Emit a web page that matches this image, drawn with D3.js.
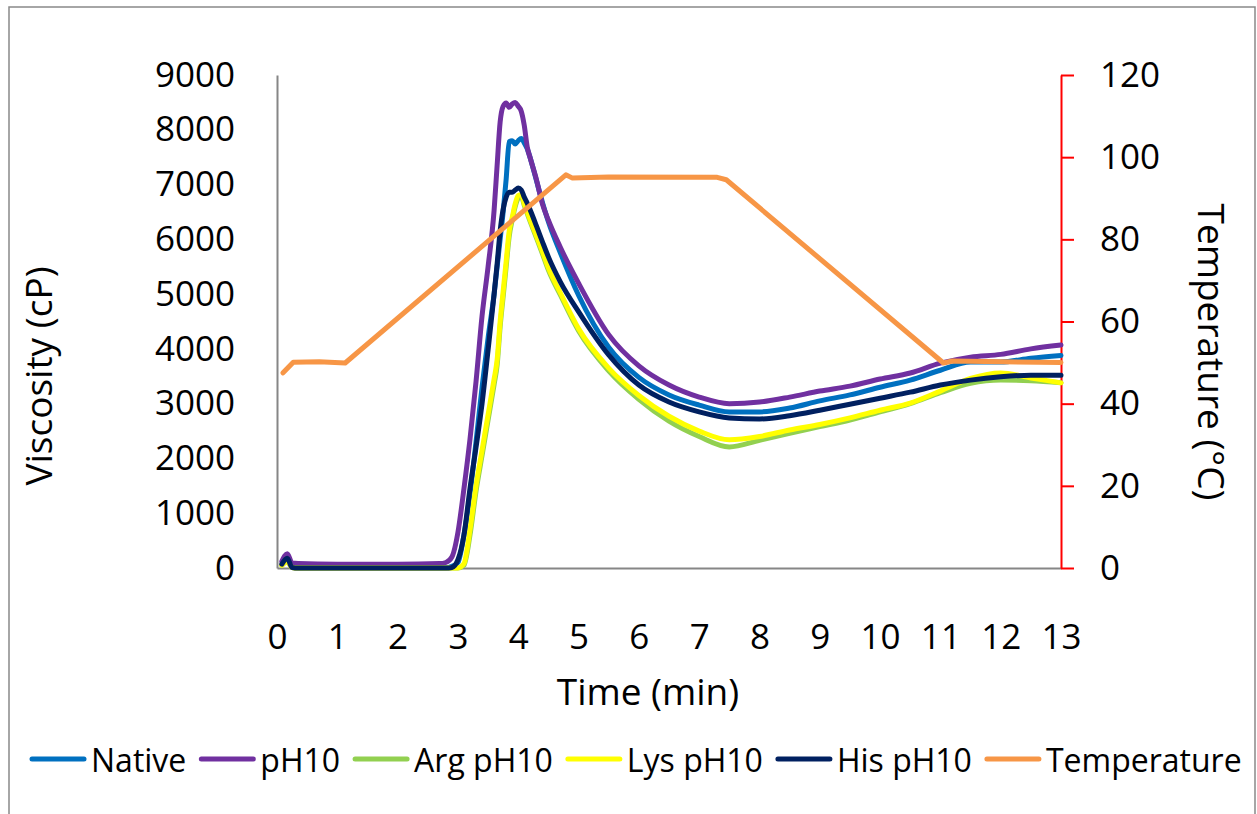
<!DOCTYPE html>
<html>
<head>
<meta charset="utf-8">
<script src="https://cdn.jsdelivr.net/npm/d3@7"></script>
<style>
  body { margin: 0; background: #fff; }
  text { font-family: "Open Sans", "Noto Sans", sans-serif; fill: #000; }
</style>
</head>
<body>
<svg width="1257" height="814"></svg>
<script>
// time grid (min) shared by the viscosity curves
const time = [0.08, 0.17, 0.25, 0.35, 1, 2, 2.7,
  2.8, 2.9, 3.0, 3.1, 3.2, 3.3, 3.4, 3.5,
  3.6, 3.65, 3.7, 3.75, 3.8, 3.85, 3.9, 3.95, 4.0, 4.05, 4.1, 4.15, 4.2,
  4.3, 4.4, 4.5, 4.7, 5.0,
  5.5, 6.0, 6.5, 7.0, 7.5, 8.0, 8.5, 9.0, 9.5, 10.0, 10.5, 11.0, 11.5, 12.0, 12.5, 13.0];

// viscosity (cP)
const native = [60, 150, 20, 0, 0, 0, 0,
  0, 30, 100, 600, 1350, 2300, 3300, 4200,
  5000, 5500, 6000, 6500, 7100, 7780, 7800, 7740, 7800, 7840, 7760, 7650, 7480,
  7080, 6680, 6320, 5750, 4980,
  4030, 3480, 3160, 2975, 2850, 2850, 2920, 3050, 3160, 3300, 3430, 3610, 3760, 3760, 3830, 3880];
const ph10 = [120, 260, 90, 80, 70, 70, 80,
  100, 200, 650, 1450, 2350, 3400, 4600, 5500,
  6530, 7350, 8140, 8430, 8490, 8410, 8470, 8500, 8430, 8340, 8080, 7680, 7480,
  7100, 6650, 6350, 5850, 5200,
  4260, 3690, 3340, 3120, 3000, 3030, 3120, 3230, 3320, 3450, 3560, 3740, 3850, 3900, 4000, 4070];
const argPh10 = [50, 120, 10, 0, 0, 0, 0,
  0, 0, 0, 50, 600, 1400, 2050, 2700,
  3350, 3700, 4400, 4950, 5500, 6050, 6350, 6600, 6750, 6780, 6620, 6470, 6320,
  6030, 5740, 5440, 4980, 4330,
  3600, 3080, 2680, 2400, 2210, 2330, 2460, 2580, 2700, 2850, 3000, 3200, 3370, 3430, 3420, 3380];
const lysPh10 = [50, 120, 10, 0, 0, 0, 0,
  0, 0, 0, 80, 700, 1500, 2150, 2800,
  3450, 3800, 4500, 5050, 5600, 6150, 6400, 6650, 6800, 6820, 6650, 6500, 6350,
  6070, 5780, 5480, 5020, 4370,
  3650, 3150, 2770, 2500, 2340, 2400, 2520, 2620, 2740, 2880, 3010, 3230, 3460, 3560, 3470, 3380];
const hisPh10 = [70, 180, 10, 0, 0, 0, 0,
  0, 10, 150, 600, 1450, 2200, 3000, 3980,
  5000, 5550, 6150, 6550, 6770, 6860, 6860, 6900, 6935, 6900, 6770, 6660, 6530,
  6250, 5960, 5680, 5220, 4680,
  3890, 3340, 3030, 2850, 2740, 2720, 2780, 2880, 2990, 3100, 3210, 3340, 3430, 3490, 3520, 3520];

// temperature profile (°C)
const tempTime = [0.1, 0.27, 0.7, 1.13, 4.79, 4.9, 5.5, 7.3, 7.45, 11.05, 11.2, 13.0];
const tempC = [47.5, 50.1, 50.2, 49.9, 95.7, 94.9, 95.2, 95.1, 94.5, 49.9, 50.4, 50.0];

const xTicks = d3.range(0, 14);
const yTicks = d3.range(0, 9001, 1000);
const tTicks = d3.range(0, 121, 20);

const series = [
  { name: "Native", values: native, color: "#0070C0" },
  { name: "pH10", values: ph10, color: "#7030A0" },
  { name: "Arg pH10", values: argPh10, color: "#92D050" },
  { name: "Lys pH10", values: lysPh10, color: "#FFFF00" },
  { name: "His pH10", values: hisPh10, color: "#002060" }
];
const tempColor = "#F79646";

const svg = d3.select("svg");
const plotLeft = 277, plotRight = 1061, plotTop = 75, plotBottom = 568;

// chart border
svg.append("rect")
  .attr("x", 9).attr("y", 7)
  .attr("width", 1246).attr("height", 830)
  .style("fill", "none").style("stroke", "#898989").style("stroke-width", 1.5);

const x = d3.scaleLinear().domain([0, 13]).range([plotLeft, plotRight]);
const y = d3.scaleLinear().domain([0, 9000]).range([plotBottom, plotTop]);
const yT = d3.scaleLinear().domain([0, 120]).range([plotBottom, plotTop]);

// axes
const gx = svg.append("g").attr("transform", `translate(0,${plotBottom})`)
  .call(d3.axisBottom(x).tickValues(xTicks).tickSize(0).tickSizeOuter(0).tickFormat(d3.format("d")));
gx.selectAll("text").attr("y", 69).attr("dy", "0.35em");

const gy = svg.append("g").attr("transform", `translate(${plotLeft},0)`)
  .call(d3.axisLeft(y).tickValues(yTicks).tickSize(0).tickSizeOuter(0).tickPadding(42).tickFormat(d3.format("d")));

[gx, gy].forEach(g => {
  g.select(".domain").style("stroke", "#868686").style("stroke-width", 2);
});

const gt = svg.append("g").attr("transform", `translate(${plotRight},0)`)
  .call(d3.axisRight(yT).tickValues(tTicks).tickSize(13).tickSizeOuter(0).tickPadding(26));
gt.select(".domain").style("stroke", "#FF0000").style("stroke-width", 2);
gt.selectAll(".tick line").style("stroke", "#FF0000").style("stroke-width", 2);

[gx, gy, gt].forEach(g => {
  g.attr("font-family", null).attr("font-size", null);
  g.selectAll("text").style("font-size", "35px").attr("fill", "#000");
});

// axis titles
svg.append("text")
  .attr("x", 648).attr("y", 690)
  .attr("text-anchor", "middle").attr("dominant-baseline", "central")
  .style("font-size", "37px").text("Time (min)");

svg.append("text")
  .attr("transform", "translate(37,376) rotate(-90)")
  .attr("text-anchor", "middle").attr("dominant-baseline", "central")
  .style("font-size", "37px").text("Viscosity (cP)");

svg.append("text")
  .attr("transform", "translate(1212,352) rotate(90)")
  .attr("text-anchor", "middle").attr("dominant-baseline", "central")
  .style("font-size", "37px").text("Temperature (°C)");

// viscosity lines
const line = d3.line()
  .x((d, i) => x(time[i]))
  .y(d => y(d))
  .curve(d3.curveMonotoneX);

series.forEach(s => {
  svg.append("path")
    .datum(s.values)
    .attr("d", line)
    .style("fill", "none")
    .style("stroke", s.color)
    .style("stroke-width", 5)
    .style("stroke-linejoin", "round")
    .style("stroke-linecap", "round");
});

// temperature line on the secondary axis
const tLine = d3.line()
  .x((d, i) => x(tempTime[i]))
  .y(d => yT(d));

svg.append("path")
  .datum(tempC)
  .attr("d", tLine)
  .style("fill", "none")
  .style("stroke", tempColor)
  .style("stroke-width", 5)
  .style("stroke-linejoin", "round")
  .style("stroke-linecap", "round");

// legend
const legendItems = series.map(s => ({ name: s.name, color: s.color }))
  .concat([{ name: "Temperature", color: tempColor }]);
let lx = 30;
const ly = 759;
legendItems.forEach(item => {
  svg.append("line")
    .attr("x1", lx + 2).attr("x2", lx + 54)
    .attr("y1", ly).attr("y2", ly)
    .style("stroke", item.color)
    .style("stroke-width", 5)
    .style("stroke-linecap", "round");
  const t = svg.append("text")
    .attr("x", lx + 61).attr("y", ly)
    .attr("dominant-baseline", "central")
    .style("font-size", "32px")
    .text(item.name);
  lx += 61 + t.node().getComputedTextLength() + 13;
});
</script>
</body>
</html>
